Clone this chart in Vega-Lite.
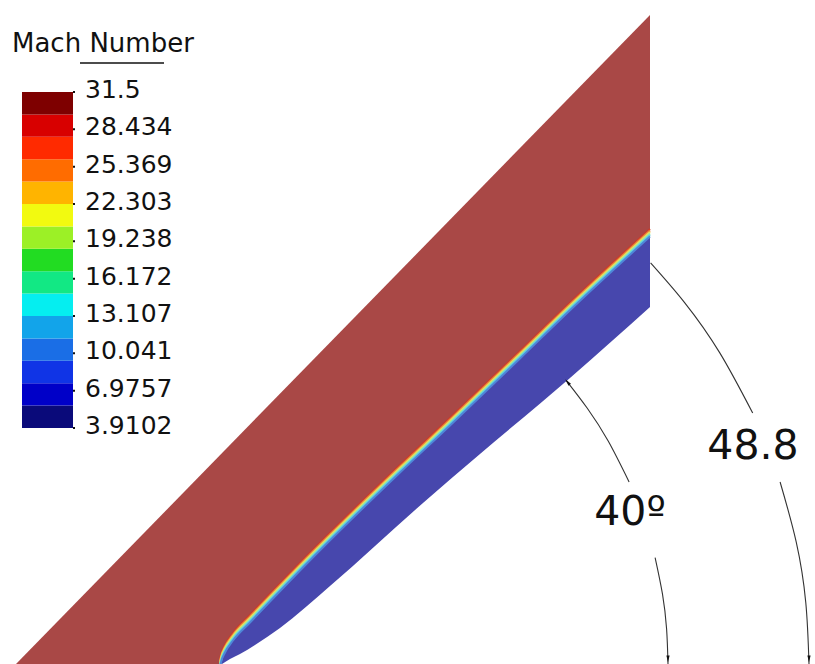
{
  "$schema": "https://vega.github.io/schema/vega-lite/v6.json",
  "width": 815,
  "height": 664,
  "autosize": {"type": "none"},
  "padding": 0,
  "background": "white",
  "config": {
    "view": {"stroke": null},
    "axis": {"disable": true},
    "text": {"font": "DejaVu Sans"}
  },
  "datasets": {
    "edge": [{"x": 16, "y": 664}, {"x": 650, "y": 15}],
    "shock": [
      {"x": 220, "y": 664}, {"x": 221, "y": 659}, {"x": 225, "y": 649}, {"x": 233, "y": 637},
      {"x": 250, "y": 619}, {"x": 270, "y": 598}, {"x": 300, "y": 567}, {"x": 400, "y": 469},
      {"x": 450, "y": 422}, {"x": 520, "y": 355}, {"x": 575, "y": 302}, {"x": 650, "y": 233}
    ],
    "wedge": [
      {"x": 222, "y": 664}, {"x": 230, "y": 659}, {"x": 240, "y": 654}, {"x": 255, "y": 645},
      {"x": 280, "y": 628}, {"x": 330, "y": 586}, {"x": 423, "y": 503}, {"x": 480, "y": 454},
      {"x": 570, "y": 378}, {"x": 650, "y": 307}
    ],
    "arcs": [
      {"seg": "a40top", "x": 566.1, "y": 380.3}, {"seg": "a40top", "x": 587.3, "y": 408.2},
      {"seg": "a40top", "x": 608.2, "y": 441.0}, {"seg": "a40top", "x": 629.1, "y": 481.9},
      {"seg": "a40bot", "x": 655.1, "y": 557.6}, {"seg": "a40bot", "x": 662.5, "y": 594.2},
      {"seg": "a40bot", "x": 666.6, "y": 629.0}, {"seg": "a40bot", "x": 668.0, "y": 664.0},
      {"seg": "a49top", "x": 650.6, "y": 262.9}, {"seg": "a49top", "x": 684.6, "y": 302.6},
      {"seg": "a49top", "x": 719.8, "y": 352.9}, {"seg": "a49top", "x": 752.7, "y": 413.1},
      {"seg": "a49bot", "x": 780.1, "y": 482.0}, {"seg": "a49bot", "x": 796.2, "y": 541.9},
      {"seg": "a49bot", "x": 805.8, "y": 602.7}, {"seg": "a49bot", "x": 809.0, "y": 664.0}
    ],
    "arrowsDown": [{"x": 668, "y": 659}, {"x": 809, "y": 659}],
    "arrowsUp": [{"x": 567.5, "y": 382}],
    "angles": [{"x": 630, "y": 513, "t": "40º"}, {"x": 753, "y": 447, "t": "48.8"}],
    "title": [{"x": 12, "y": 44, "t": "Mach Number"}],
    "bands": [
      {"band": 0, "lo": 3.9102, "hi": 5.7495},
      {"band": 1, "lo": 5.7495, "hi": 7.5888},
      {"band": 2, "lo": 7.5888, "hi": 9.4281},
      {"band": 3, "lo": 9.4281, "hi": 11.2674},
      {"band": 4, "lo": 11.2674, "hi": 13.1067},
      {"band": 5, "lo": 13.1067, "hi": 14.946},
      {"band": 6, "lo": 14.946, "hi": 16.7853},
      {"band": 7, "lo": 16.7853, "hi": 18.6246},
      {"band": 8, "lo": 18.6246, "hi": 20.4639},
      {"band": 9, "lo": 20.4639, "hi": 22.3032},
      {"band": 10, "lo": 22.3032, "hi": 24.1425},
      {"band": 11, "lo": 24.1425, "hi": 25.9818},
      {"band": 12, "lo": 25.9818, "hi": 27.8211},
      {"band": 13, "lo": 27.8211, "hi": 29.6604},
      {"band": 14, "lo": 29.6604, "hi": 31.5}
    ],
    "labels": [
      {"v": 31.5, "label": "31.5"},
      {"v": 28.434, "label": "28.434"},
      {"v": 25.369, "label": "25.369"},
      {"v": 22.303, "label": "22.303"},
      {"v": 19.238, "label": "19.238"},
      {"v": 16.172, "label": "16.172"},
      {"v": 13.107, "label": "13.107"},
      {"v": 10.041, "label": "10.041"},
      {"v": 6.9757, "label": "6.9757"},
      {"v": 3.9102, "label": "3.9102"}
    ]
  },
  "resolve": {"scale": {"y": "independent"}},
  "layer": [
    {
      "layer": [
        {
          "data": {"name": "edge"},
          "mark": {"type": "area", "color": "#a94846"},
          "encoding": {
            "x": {"field": "x", "type": "quantitative", "scale": {"domain": [0, 815], "nice": false, "zero": false}},
            "y": {"field": "y", "type": "quantitative", "scale": {"domain": [0, 664], "reverse": true, "nice": false, "zero": false}},
            "y2": {"datum": 664}
          }
        },
        {
          "data": {"name": "shock"},
          "mark": {"type": "area", "color": "#4747ad", "interpolate": "monotone"},
          "encoding": {
            "x": {"field": "x", "type": "quantitative", "scale": {"domain": [0, 815], "nice": false, "zero": false}},
            "y": {"field": "y", "type": "quantitative", "scale": {"domain": [0, 664], "reverse": true, "nice": false, "zero": false}},
            "y2": {"datum": 664}
          }
        },
        {
          "data": {"name": "shock"},
          "mark": {"type": "line", "color": "#cc3b2a", "strokeWidth": 2, "yOffset": -4, "interpolate": "monotone"},
          "encoding": {
            "x": {"field": "x", "type": "quantitative", "scale": {"domain": [0, 815], "nice": false, "zero": false}},
            "y": {"field": "y", "type": "quantitative", "scale": {"domain": [0, 664], "reverse": true, "nice": false, "zero": false}}
          }
        },
        {
          "data": {"name": "shock"},
          "mark": {"type": "line", "color": "#e8843a", "strokeWidth": 2, "yOffset": -2.5, "interpolate": "monotone"},
          "encoding": {
            "x": {"field": "x", "type": "quantitative", "scale": {"domain": [0, 815], "nice": false, "zero": false}},
            "y": {"field": "y", "type": "quantitative", "scale": {"domain": [0, 664], "reverse": true, "nice": false, "zero": false}}
          }
        },
        {
          "data": {"name": "shock"},
          "mark": {"type": "line", "color": "#eedc55", "strokeWidth": 2, "yOffset": -1, "interpolate": "monotone"},
          "encoding": {
            "x": {"field": "x", "type": "quantitative", "scale": {"domain": [0, 815], "nice": false, "zero": false}},
            "y": {"field": "y", "type": "quantitative", "scale": {"domain": [0, 664], "reverse": true, "nice": false, "zero": false}}
          }
        },
        {
          "data": {"name": "shock"},
          "mark": {"type": "line", "color": "#9fe6a0", "strokeWidth": 2, "yOffset": 0.5, "interpolate": "monotone"},
          "encoding": {
            "x": {"field": "x", "type": "quantitative", "scale": {"domain": [0, 815], "nice": false, "zero": false}},
            "y": {"field": "y", "type": "quantitative", "scale": {"domain": [0, 664], "reverse": true, "nice": false, "zero": false}}
          }
        },
        {
          "data": {"name": "shock"},
          "mark": {"type": "line", "color": "#5cd0e6", "strokeWidth": 2, "yOffset": 2, "interpolate": "monotone"},
          "encoding": {
            "x": {"field": "x", "type": "quantitative", "scale": {"domain": [0, 815], "nice": false, "zero": false}},
            "y": {"field": "y", "type": "quantitative", "scale": {"domain": [0, 664], "reverse": true, "nice": false, "zero": false}}
          }
        },
        {
          "data": {"name": "shock"},
          "mark": {"type": "line", "color": "#4f86d8", "strokeWidth": 2, "yOffset": 3.5, "interpolate": "monotone"},
          "encoding": {
            "x": {"field": "x", "type": "quantitative", "scale": {"domain": [0, 815], "nice": false, "zero": false}},
            "y": {"field": "y", "type": "quantitative", "scale": {"domain": [0, 664], "reverse": true, "nice": false, "zero": false}}
          }
        },
        {
          "data": {"name": "wedge"},
          "mark": {"type": "area", "color": "white", "interpolate": "monotone"},
          "encoding": {
            "x": {"field": "x", "type": "quantitative", "scale": {"domain": [0, 815], "nice": false, "zero": false}},
            "y": {"field": "y", "type": "quantitative", "scale": {"domain": [0, 664], "reverse": true, "nice": false, "zero": false}},
            "y2": {"datum": 664}
          }
        },
        {
          "data": {"name": "arcs"},
          "mark": {"type": "line", "color": "#333333", "strokeWidth": 1.1, "interpolate": "natural"},
          "encoding": {
            "x": {"field": "x", "type": "quantitative", "scale": {"domain": [0, 815], "nice": false, "zero": false}},
            "y": {"field": "y", "type": "quantitative", "scale": {"domain": [0, 664], "reverse": true, "nice": false, "zero": false}},
            "detail": {"field": "seg"}
          }
        },
        {
          "data": {"name": "arrowsDown"},
          "mark": {"type": "point", "shape": "M0,-1L0.45,1L-0.45,1Z", "filled": true, "color": "#111111", "opacity": 1, "size": 50, "angle": 180},
          "encoding": {
            "x": {"field": "x", "type": "quantitative", "scale": {"domain": [0, 815], "nice": false, "zero": false}},
            "y": {"field": "y", "type": "quantitative", "scale": {"domain": [0, 664], "reverse": true, "nice": false, "zero": false}}
          }
        },
        {
          "data": {"name": "arrowsUp"},
          "mark": {"type": "point", "shape": "M0,-1L0.45,1L-0.45,1Z", "filled": true, "color": "#111111", "opacity": 1, "size": 50, "angle": -39.5},
          "encoding": {
            "x": {"field": "x", "type": "quantitative", "scale": {"domain": [0, 815], "nice": false, "zero": false}},
            "y": {"field": "y", "type": "quantitative", "scale": {"domain": [0, 664], "reverse": true, "nice": false, "zero": false}}
          }
        },
        {
          "data": {"name": "angles"},
          "mark": {"type": "text", "fontSize": 41, "color": "#111111", "align": "center", "baseline": "middle", "font": "DejaVu Sans"},
          "encoding": {
            "x": {"field": "x", "type": "quantitative", "scale": {"domain": [0, 815], "nice": false, "zero": false}},
            "y": {"field": "y", "type": "quantitative", "scale": {"domain": [0, 664], "reverse": true, "nice": false, "zero": false}},
            "text": {"field": "t"}
          }
        },
        {
          "data": {"name": "title"},
          "mark": {"type": "text", "fontSize": 26, "color": "#111111", "align": "left", "baseline": "middle", "font": "DejaVu Sans"},
          "encoding": {
            "x": {"field": "x", "type": "quantitative", "scale": {"domain": [0, 815], "nice": false, "zero": false}},
            "y": {"field": "y", "type": "quantitative", "scale": {"domain": [0, 664], "reverse": true, "nice": false, "zero": false}},
            "text": {"field": "t"}
          }
        },
        {
          "data": {"name": "title"},
          "mark": {"type": "rule", "color": "#111111", "strokeWidth": 1.5},
          "encoding": {
            "x": {"datum": 80, "type": "quantitative", "scale": {"domain": [0, 815], "nice": false, "zero": false}},
            "x2": {"datum": 164},
            "y": {"datum": 63, "type": "quantitative", "scale": {"domain": [0, 664], "reverse": true, "nice": false, "zero": false}}
          }
        }
      ]
    },
    {
      "layer": [
        {
          "data": {"name": "bands"},
          "mark": {"type": "rect"},
          "encoding": {
            "x": {"datum": 22, "type": "quantitative", "scale": {"domain": [0, 815], "nice": false, "zero": false}},
            "x2": {"datum": 73},
            "y": {"field": "lo", "type": "quantitative", "scale": {"domain": [-15.469, 39.055], "nice": false, "zero": false}},
            "y2": {"field": "hi"},
            "color": {
              "field": "band", "type": "ordinal", "legend": null,
              "scale": {
                "domain": [0, 1, 2, 3, 4, 5, 6, 7, 8, 9, 10, 11, 12, 13, 14],
                "range": ["#0a0a7a", "#0000c8", "#1034e6", "#1a6ee6", "#12a4ea", "#05eef0", "#12e884", "#22dc22", "#9cf026", "#f2fa10", "#ffb400", "#ff6c00", "#ff2a00", "#d80000", "#7e0000"]
              }
            }
          }
        },
        {
          "data": {"name": "labels"},
          "mark": {"type": "rule", "color": "#111111", "strokeWidth": 2},
          "encoding": {
            "x": {"datum": 73, "type": "quantitative", "scale": {"domain": [0, 815], "nice": false, "zero": false}},
            "x2": {"datum": 75},
            "y": {"field": "v", "type": "quantitative", "scale": {"domain": [-15.469, 39.055], "nice": false, "zero": false}}
          }
        },
        {
          "data": {"name": "labels"},
          "mark": {"type": "text", "fontSize": 25, "color": "#111111", "align": "left", "baseline": "middle", "dy": -2, "font": "DejaVu Sans"},
          "encoding": {
            "x": {"datum": 85, "type": "quantitative", "scale": {"domain": [0, 815], "nice": false, "zero": false}},
            "y": {"field": "v", "type": "quantitative", "scale": {"domain": [-15.469, 39.055], "nice": false, "zero": false}},
            "text": {"field": "label"}
          }
        }
      ]
    }
  ]
}
